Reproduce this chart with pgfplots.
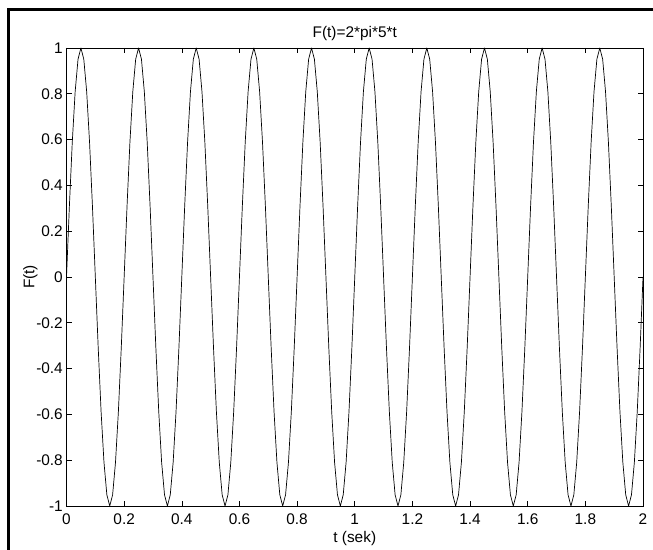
\documentclass[border=0pt]{standalone}
\usepackage{pgfplots}
\pgfplotsset{compat=1.18}
\usepackage{fontspec}
\setmainfont{Liberation Sans}
\begin{document}
\fontsize{15.4bp}{18bp}\selectfont
\begin{tikzpicture}[x=1bp,y=1bp]
\path[use as bounding box] (0,0) rectangle (653,550);
\draw[line width=3bp,line cap=rect] (8.5,0) -- (8.5,540) -- (653,540);
\begin{axis}[
  at={(66.5bp,44bp)}, anchor=south west,
  scale only axis, width=576.5bp, height=458bp,
  xmin=0, xmax=2, ymin=-1, ymax=1,
  xtick={0,0.2,0.4,0.6,0.8,1,1.2,1.4,1.6,1.8,2},
  xticklabels={0,0.2,0.4,0.6,0.8,1,1.2,1.4,1.6,1.8,2},
  ytick={-1,-0.8,-0.6,-0.4,-0.2,0,0.2,0.4,0.6,0.8,1},
  yticklabels={-1,-0.8,-0.6,-0.4,-0.2,0,0.2,0.4,0.6,0.8,1},
  tick align=inside, major tick length=5bp,
  every tick/.style={black, line width=0.6bp},
  axis line style={black, line width=0.9bp},
  xticklabel style={anchor=base, yshift=-19bp},
  yticklabel style={anchor=east, inner sep=0pt, xshift=-3.5bp},
  title={F(t)=2*pi*5*t},
  title style={at={(0.5,1)}, anchor=base, yshift=4.5bp, inner sep=0pt},
  xlabel={t (sek)},
  xlabel style={at={(0.5,0)}, anchor=base, yshift=-37bp, inner sep=0pt},
  ylabel={F(t)},
  ylabel style={at={(0,0.5)}, anchor=base, yshift=32bp, inner sep=0pt},
  clip=false,
]
\addplot[black, line width=0.7bp, line join=round] coordinates {
(0.00,0) (0.01,0.309) (0.02,0.5878) (0.03,0.809) (0.04,0.9511) (0.05,1) (0.06,0.9511) (0.07,0.809) (0.08,0.5878) (0.09,0.309)
(0.10,0) (0.11,-0.309) (0.12,-0.5878) (0.13,-0.809) (0.14,-0.9511) (0.15,-1) (0.16,-0.9511) (0.17,-0.809) (0.18,-0.5878) (0.19,-0.309)
(0.20,0) (0.21,0.309) (0.22,0.5878) (0.23,0.809) (0.24,0.9511) (0.25,1) (0.26,0.9511) (0.27,0.809) (0.28,0.5878) (0.29,0.309)
(0.30,0) (0.31,-0.309) (0.32,-0.5878) (0.33,-0.809) (0.34,-0.9511) (0.35,-1) (0.36,-0.9511) (0.37,-0.809) (0.38,-0.5878) (0.39,-0.309)
(0.40,0) (0.41,0.309) (0.42,0.5878) (0.43,0.809) (0.44,0.9511) (0.45,1) (0.46,0.9511) (0.47,0.809) (0.48,0.5878) (0.49,0.309)
(0.50,0) (0.51,-0.309) (0.52,-0.5878) (0.53,-0.809) (0.54,-0.9511) (0.55,-1) (0.56,-0.9511) (0.57,-0.809) (0.58,-0.5878) (0.59,-0.309)
(0.60,0) (0.61,0.309) (0.62,0.5878) (0.63,0.809) (0.64,0.9511) (0.65,1) (0.66,0.9511) (0.67,0.809) (0.68,0.5878) (0.69,0.309)
(0.70,0) (0.71,-0.309) (0.72,-0.5878) (0.73,-0.809) (0.74,-0.9511) (0.75,-1) (0.76,-0.9511) (0.77,-0.809) (0.78,-0.5878) (0.79,-0.309)
(0.80,0) (0.81,0.309) (0.82,0.5878) (0.83,0.809) (0.84,0.9511) (0.85,1) (0.86,0.9511) (0.87,0.809) (0.88,0.5878) (0.89,0.309)
(0.90,0) (0.91,-0.309) (0.92,-0.5878) (0.93,-0.809) (0.94,-0.9511) (0.95,-1) (0.96,-0.9511) (0.97,-0.809) (0.98,-0.5878) (0.99,-0.309)
(1.00,0) (1.01,0.309) (1.02,0.5878) (1.03,0.809) (1.04,0.9511) (1.05,1) (1.06,0.9511) (1.07,0.809) (1.08,0.5878) (1.09,0.309)
(1.10,0) (1.11,-0.309) (1.12,-0.5878) (1.13,-0.809) (1.14,-0.9511) (1.15,-1) (1.16,-0.9511) (1.17,-0.809) (1.18,-0.5878) (1.19,-0.309)
(1.20,0) (1.21,0.309) (1.22,0.5878) (1.23,0.809) (1.24,0.9511) (1.25,1) (1.26,0.9511) (1.27,0.809) (1.28,0.5878) (1.29,0.309)
(1.30,0) (1.31,-0.309) (1.32,-0.5878) (1.33,-0.809) (1.34,-0.9511) (1.35,-1) (1.36,-0.9511) (1.37,-0.809) (1.38,-0.5878) (1.39,-0.309)
(1.40,0) (1.41,0.309) (1.42,0.5878) (1.43,0.809) (1.44,0.9511) (1.45,1) (1.46,0.9511) (1.47,0.809) (1.48,0.5878) (1.49,0.309)
(1.50,0) (1.51,-0.309) (1.52,-0.5878) (1.53,-0.809) (1.54,-0.9511) (1.55,-1) (1.56,-0.9511) (1.57,-0.809) (1.58,-0.5878) (1.59,-0.309)
(1.60,0) (1.61,0.309) (1.62,0.5878) (1.63,0.809) (1.64,0.9511) (1.65,1) (1.66,0.9511) (1.67,0.809) (1.68,0.5878) (1.69,0.309)
(1.70,0) (1.71,-0.309) (1.72,-0.5878) (1.73,-0.809) (1.74,-0.9511) (1.75,-1) (1.76,-0.9511) (1.77,-0.809) (1.78,-0.5878) (1.79,-0.309)
(1.80,0) (1.81,0.309) (1.82,0.5878) (1.83,0.809) (1.84,0.9511) (1.85,1) (1.86,0.9511) (1.87,0.809) (1.88,0.5878) (1.89,0.309)
(1.90,0) (1.91,-0.309) (1.92,-0.5878) (1.93,-0.809) (1.94,-0.9511) (1.95,-1) (1.96,-0.9511) (1.97,-0.809) (1.98,-0.5878) (1.99,-0.309)
(2.00,0)
};
\end{axis}
\end{tikzpicture}
\end{document}
